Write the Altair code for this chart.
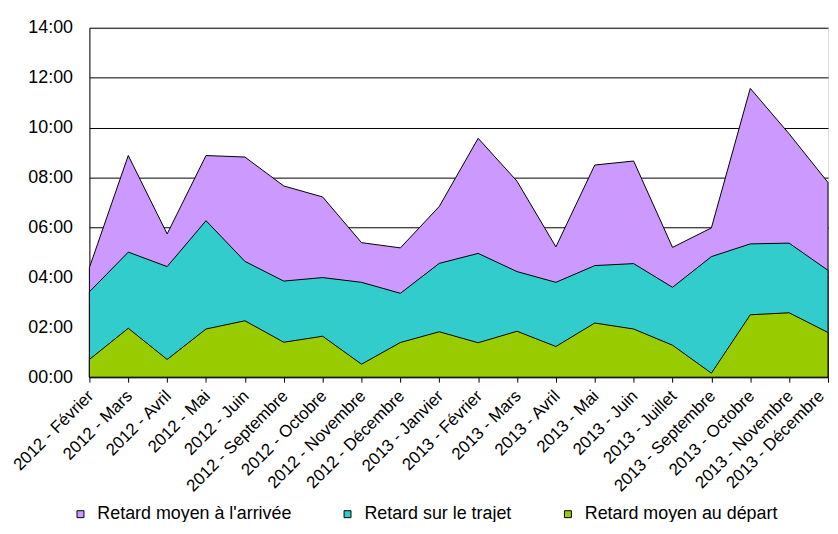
import altair as alt
import pandas as pd

categories = [
    "2012 - Février", "2012 - Mars", "2012 - Avril", "2012 - Mai", "2012 - Juin",
    "2012 - Septembre", "2012 - Octobre", "2012 - Novembre", "2012 - Décembre",
    "2013 - Janvier", "2013 - Février", "2013 - Mars", "2013 - Avril", "2013 - Mai",
    "2013 - Juin", "2013 - Juillet", "2013 - Septembre", "2013 - Octobre",
    "2013 - Novembre", "2013 - Décembre",
]
# delays in minutes
arrivee = [4.39, 8.88, 5.74, 8.88, 8.82, 7.66, 7.22, 5.39, 5.18, 6.84,
           9.57, 7.85, 5.22, 8.50, 8.66, 5.20, 5.98, 11.57, 9.75, 7.80]
trajet = [3.42, 5.01, 4.43, 6.27, 4.64, 3.85, 3.99, 3.80, 3.36, 4.56,
          4.96, 4.23, 3.80, 4.47, 4.55, 3.60, 4.83, 5.34, 5.37, 4.28]
depart = [0.71, 1.96, 0.71, 1.93, 2.26, 1.40, 1.64, 0.52, 1.39, 1.82,
          1.38, 1.84, 1.23, 2.17, 1.93, 1.28, 0.16, 2.50, 2.58, 1.79]

series_names = ["Retard moyen à l'arrivée", "Retard sur le trajet", "Retard moyen au départ"]
colors = ["#CC99FF", "#33CCCC", "#99CC00"]
y_ticks = [0, 2, 4, 6, 8, 10, 12, 14]

rows = []
for name, vals in zip(series_names, [arrivee, trajet, depart]):
    for c, v in zip(categories, vals):
        rows.append({"mois": c, "serie": name, "retard": v})
df = pd.DataFrame(rows)

FONT = "Liberation Sans"
last_label = categories[-1]

x_enc = alt.X(
    "mois:N",
    sort=categories,
    scale=alt.Scale(type="point", padding=0),
    axis=alt.Axis(
        title=None, labelAngle=-45, labelAlign="right", labelBaseline="middle",
        labelFontSize=17, labelPadding=11,
        labelOffset={"condition": {"test": f"datum.label == '{last_label}'", "value": -7},
                     "value": 1},
        ticks=True, tickSize=5,
        tickColor="black", domainColor="black", grid=False, labelFont=FONT,
        labelColor="black",
    ),
)
y_enc = alt.Y(
    "retard:Q",
    stack=None,
    scale=alt.Scale(domain=[0, 14], nice=False),
    axis=alt.Axis(
        title=None, values=y_ticks,
        labelExpr="(datum.value < 10 ? '0' : '') + datum.value + ':00'",
        labelFontSize=18, labelFont=FONT, labelColor="black", labelPadding=17,
        ticks=False, domainColor="black", grid=True, gridColor="black",
        gridWidth=1,
    ),
)
color_enc = alt.Color(
    "serie:N",
    scale=alt.Scale(domain=series_names, range=colors),
    legend=alt.Legend(
        title=None, orient="none", direction="horizontal", columns=3,
        legendX=-18, legendY=481, symbolType="square", symbolSize=49,
        symbolStrokeColor="black", symbolStrokeWidth=1, labelFontSize=18,
        labelFont=FONT, labelColor="black", labelOffset=8, columnPadding=47,
        labelLimit=400, padding=0,
    ),
)

layers = []
for name in series_names:
    layers.append(
        alt.Chart(df)
        .transform_filter(alt.datum.serie == name)
        .mark_area(stroke="black", strokeWidth=1, opacity=1, strokeJoin="miter")
        .encode(x=x_enc, y=y_enc, color=color_enc)
    )

chart = (
    alt.layer(*layers)
    .properties(
        width=744, height=352,
        autosize=alt.AutoSizeParams(type="none"),
        padding={"left": 82, "top": 18, "right": 2, "bottom": 144},
    )
    .configure_view(stroke="#888888", strokeWidth=1)
    .configure(background="white")
)

chart.save("out.html", embed_options={"renderer": "svg", "actions": False})
